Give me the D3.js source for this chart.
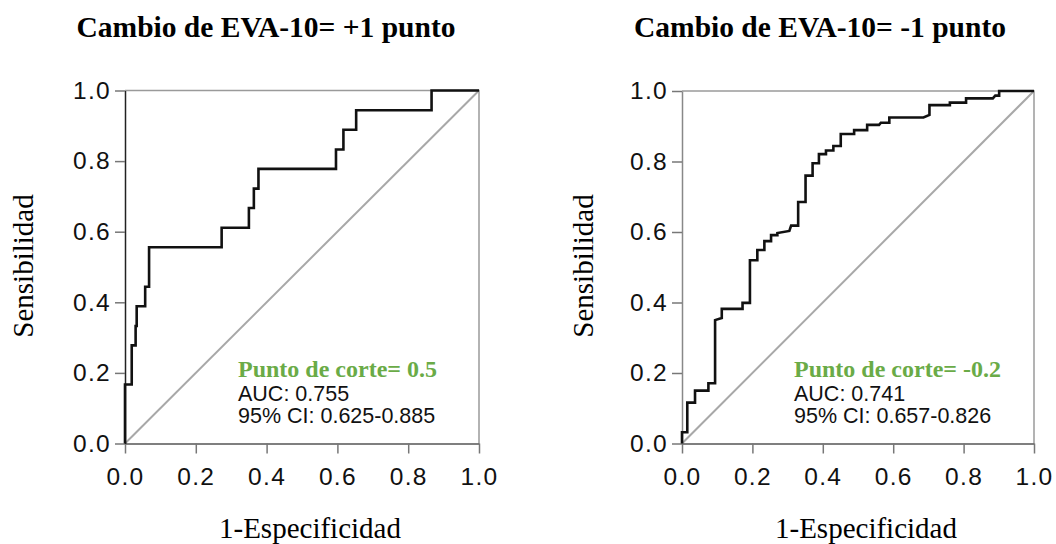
<!DOCTYPE html>
<html>
<head>
<meta charset="utf-8">
<script src="https://cdn.jsdelivr.net/npm/d3@7"></script>
<style>
  html, body { margin: 0; padding: 0; background: #fff; }
  svg { display: block; }
</style>
</head>
<body>
<svg id="chart" width="1056" height="544"></svg>
<script>
// ROC curve for a change of +1 point on the VAS-10 scale
const leftFpr = [0, 0, 0, 0.019, 0.019, 0.030, 0.030, 0.033, 0.033, 0.057, 0.057, 0.068, 0.068, 0.273, 0.273,
  0.350, 0.350, 0.364, 0.364, 0.377, 0.377, 0.596, 0.596, 0.617, 0.617, 0.653, 0.653, 0.866, 0.866, 1];
const leftTpr = [0, 0.111, 0.167, 0.167, 0.278, 0.278, 0.333, 0.333, 0.389, 0.389, 0.444, 0.444, 0.556, 0.556, 0.611,
  0.611, 0.667, 0.667, 0.722, 0.722, 0.778, 0.778, 0.833, 0.833, 0.889, 0.889, 0.944, 0.944, 1, 1];

// ROC curve for a change of -1 point on the VAS-10 scale
const rightFpr = [0, 0, 0.015, 0.015, 0.037, 0.037, 0.075, 0.075, 0.094, 0.094, 0.113, 0.113, 0.172, 0.172, 0.193,
  0.193, 0.214, 0.214, 0.234, 0.234, 0.253, 0.253, 0.271, 0.271, 0.305, 0.310, 0.330, 0.330, 0.351, 0.351,
  0.371, 0.371, 0.389, 0.389, 0.409, 0.409, 0.430, 0.430, 0.451, 0.451, 0.489, 0.489, 0.526, 0.526, 0.560,
  0.565, 0.589, 0.589, 0.686, 0.703, 0.703, 0.761, 0.761, 0.807, 0.807, 0.883, 0.890, 0.901, 0.901, 1];
const rightTpr = [0, 0.032, 0.032, 0.116, 0.116, 0.150, 0.150, 0.171, 0.171, 0.350, 0.356, 0.382, 0.382, 0.399, 0.399,
  0.520, 0.520, 0.549, 0.549, 0.574, 0.574, 0.591, 0.591, 0.597, 0.603, 0.618, 0.618, 0.685, 0.685, 0.760,
  0.760, 0.795, 0.795, 0.821, 0.821, 0.831, 0.831, 0.844, 0.844, 0.878, 0.878, 0.889, 0.889, 0.904, 0.904,
  0.910, 0.910, 0.925, 0.925, 0.932, 0.960, 0.960, 0.967, 0.967, 0.979, 0.979, 0.987, 0.987, 1, 1];

const tickValues = [0, 0.2, 0.4, 0.6, 0.8, 1.0];
const titles = ["Cambio de EVA-10= +1 punto", "Cambio de EVA-10= -1 punto"];
const cutoffs = ["Punto de corte= 0.5", "Punto de corte= -0.2"];
const aucs = ["AUC: 0.755", "AUC: 0.741"];
const cis = ["95% CI: 0.625-0.885", "95% CI: 0.657-0.826"];
const xLabel = "1-Especificidad";
const yLabel = "Sensibilidad";

const svg = d3.select("#chart");
const serif = "'Liberation Serif', 'Times New Roman', serif";
const sans = "'Liberation Sans', Arial, sans-serif";
const green = "#6aab47";

const panels = [
  { fpr: leftFpr, tpr: leftTpr, x0: 125, x1: 479, y0: 443.5, y1: 90.5, titleX: 266, yLabX: 33, xLabX: 310,
    noteX: 238, axisColor: "#222" },
  { fpr: rightFpr, tpr: rightTpr, x0: 682, x1: 1034, y0: 443.5, y1: 91, titleX: 820, yLabX: 593, xLabX: 866,
    noteX: 794, axisColor: "#888" }
];

panels.forEach((p, i) => {
  const x = d3.scaleLinear().domain([0, 1]).range([p.x0, p.x1]);
  const y = d3.scaleLinear().domain([0, 1]).range([p.y0, p.y1]);
  const g = svg.append("g");

  // top and right frame
  g.append("path")
    .attr("d", `M${x(0)},${y(1)}H${x(1)}V${y(0)}`)
    .attr("fill", "none").attr("stroke", "#9a9a9a").attr("stroke-width", 1.5);

  // reference diagonal
  g.append("line")
    .attr("x1", x(0)).attr("y1", y(0)).attr("x2", x(1)).attr("y2", y(1))
    .attr("stroke", "#a8a8a8").attr("stroke-width", 2);

  // x axis
  const fmt = d3.format(".1f");
  const gx = g.append("g")
    .attr("transform", `translate(0,${y(0)})`)
    .call(d3.axisBottom(x).tickValues(tickValues).tickFormat(fmt).tickSize(10).tickPadding(14).tickSizeOuter(0));
  gx.select(".domain").attr("stroke", "#555").attr("stroke-width", 1.5);
  gx.selectAll(".tick line").attr("stroke", "#777").attr("stroke-width", 1.5);
  gx.selectAll(".tick text").attr("font-family", sans).attr("font-size", 24.5)
    .attr("letter-spacing", "1.3px").attr("fill", "#111");

  // y axis
  const gy = g.append("g")
    .attr("transform", `translate(${x(0)},0)`)
    .call(d3.axisLeft(y).tickValues(tickValues).tickFormat(fmt).tickSize(10).tickPadding(4).tickSizeOuter(0));
  gy.select(".domain").attr("stroke", p.axisColor).attr("stroke-width", 1.5);
  gy.selectAll(".tick line").attr("stroke", "#777").attr("stroke-width", 1.5);
  gy.selectAll(".tick text").attr("font-family", sans).attr("font-size", 24.5)
    .attr("letter-spacing", "1.3px").attr("fill", "#111");

  // ROC curve
  const pts = p.fpr.map((f, k) => [f, p.tpr[k]]);
  g.append("path")
    .datum(pts)
    .attr("d", d3.line().x(d => x(d[0])).y(d => y(d[1])))
    .attr("fill", "none").attr("stroke", "#111").attr("stroke-width", 2.6)
    .attr("stroke-linejoin", "miter");

  // title
  g.append("text")
    .attr("x", p.titleX).attr("y", 37).attr("text-anchor", "middle")
    .attr("font-family", serif).attr("font-weight", "bold").attr("font-size", 29.5)
    .attr("fill", "#000").text(titles[i]);

  // axis titles
  g.append("text")
    .attr("x", p.xLabX).attr("y", 538).attr("text-anchor", "middle")
    .attr("font-family", serif).attr("font-size", 29).attr("fill", "#000").text(xLabel);
  g.append("text")
    .attr("transform", `translate(${p.yLabX},266) rotate(-90)`).attr("text-anchor", "middle")
    .attr("font-family", serif).attr("font-size", 29).attr("fill", "#000").text(yLabel);

  // annotation
  g.append("text")
    .attr("x", p.noteX).attr("y", 377)
    .attr("font-family", serif).attr("font-weight", "bold").attr("font-size", 24)
    .attr("fill", green).text(cutoffs[i]);
  g.append("text")
    .attr("x", p.noteX).attr("y", 400.5)
    .attr("font-family", sans).attr("font-size", 21.5).attr("fill", "#111").text(aucs[i]);
  g.append("text")
    .attr("x", p.noteX).attr("y", 422.5)
    .attr("font-family", sans).attr("font-size", 21.5).attr("fill", "#111").text(cis[i]);
});
</script>
</body>
</html>
